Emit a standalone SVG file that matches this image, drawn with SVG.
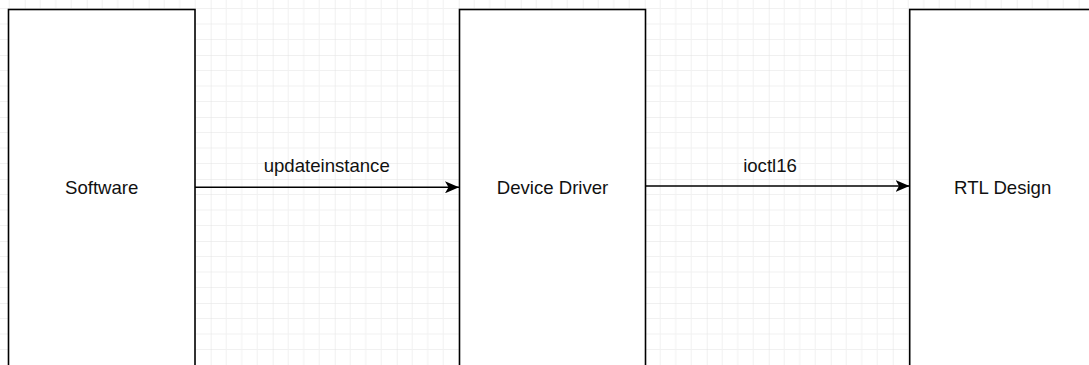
<svg xmlns="http://www.w3.org/2000/svg" width="1089" height="365" viewBox="0 0 1089 365">
  <defs>
    <pattern id="grid" patternUnits="userSpaceOnUse" x="24.7" y="55" width="62" height="62">
      <path d="M15.5 0V62M31 0V62M46.5 0V62M0 15.5H62M0 31H62M0 46.5H62" stroke="#f1f1f1" stroke-width="1" fill="none"/>
      <path d="M0 0V62M0 0H62" stroke="#e2e2e2" stroke-width="1" fill="none"/>
    </pattern>
    <marker id="arrow" viewBox="0 0 14 12" refX="14" refY="6" markerWidth="14" markerHeight="12" markerUnits="userSpaceOnUse" orient="auto">
      <path d="M0 0L14 6L0 12L3.5 6Z" fill="#000"/>
    </marker>
  </defs>
  <style>
    .box { fill: #ffffff; stroke: #000; stroke-width: 1.6; }
    .lbl { font-family: "Liberation Sans", Arial, sans-serif; font-size: 18.6px; fill: #111; text-anchor: middle; }
    .edge { stroke: #000; stroke-width: 1.6; fill: none; marker-end: url(#arrow); }
  </style>
  <rect x="0" y="0" width="1089" height="365" fill="#ffffff"/>
  <rect x="0" y="0" width="1089" height="365" fill="url(#grid)"/>
  <g id="connectors">
    <path class="edge" d="M195 187.3H459"/>
    <text class="lbl" x="326.7" y="171.5">updateinstance</text>
    <path class="edge" d="M645.5 186H909.5"/>
    <text class="lbl" x="770" y="171.5">ioctl16</text>
  </g>
  <g id="software">
    <rect class="box" x="8.5" y="9.5" width="186.5" height="370"/>
    <text class="lbl" x="101.7" y="193.5">Software</text>
  </g>
  <g id="device-driver">
    <rect class="box" x="459.5" y="9.5" width="186" height="370"/>
    <text class="lbl" x="552.5" y="193.5">Device Driver</text>
  </g>
  <g id="rtl-design">
    <rect class="box" x="909.7" y="9.5" width="186" height="370"/>
    <text class="lbl" x="1002.7" y="193.5">RTL Design</text>
  </g>
</svg>
